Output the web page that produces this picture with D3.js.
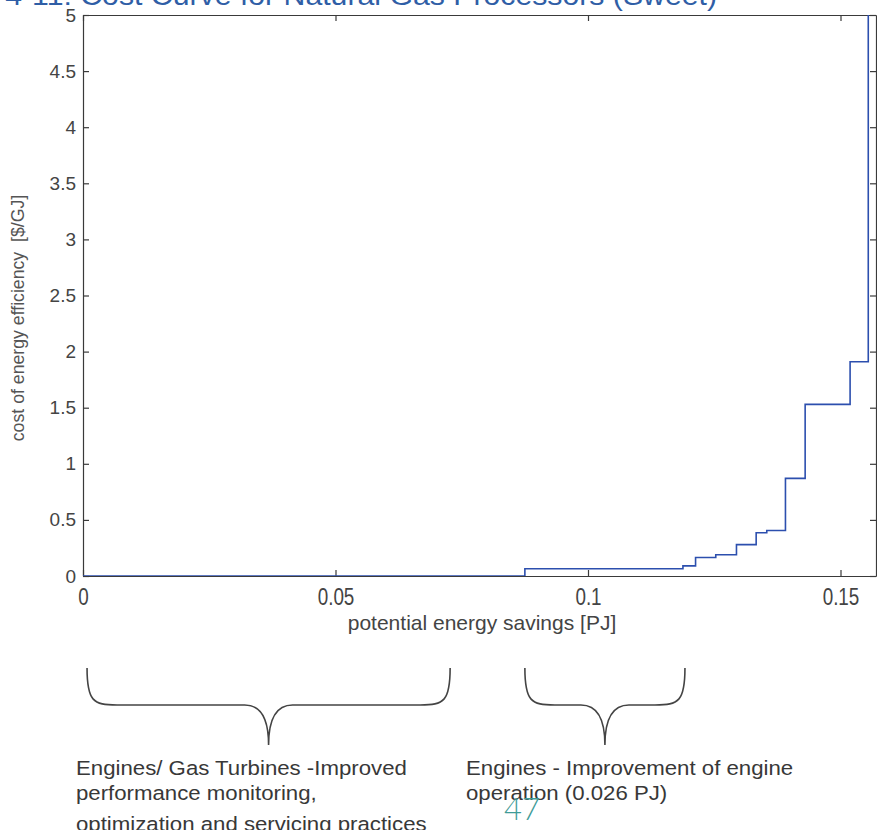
<!DOCTYPE html>
<html>
<head>
<meta charset="utf-8">
<script src="https://cdn.jsdelivr.net/npm/d3@7"></script>
<style>
  html, body { margin: 0; padding: 0; background: #ffffff; overflow: hidden; }
  svg { display: block; }
</style>
</head>
<body>
<svg id="chart" width="877" height="830"></svg>
<script>
// Cost curve steps: each measure starts at a cumulative saving (PJ) and has a cost ($/GJ)
const stepStart = [0, 0.0875, 0.1188, 0.1213, 0.1253, 0.1294, 0.1333, 0.1354, 0.1391, 0.1430, 0.1519, 0.1555];
const stepCost  = [0, 0.065, 0.09, 0.165, 0.19, 0.28, 0.385, 0.405, 0.87, 1.53, 1.91, 6.0];
const stepEnd = 0.16;

const xTicks = [0, 0.05, 0.1, 0.15];
const xTickLabels = ["0", "0.05", "0.1", "0.15"];
const yTicks = [0, 0.5, 1, 1.5, 2, 2.5, 3, 3.5, 4, 4.5, 5];
const yTickLabels = ["0", "0.5", "1", "1.5", "2", "2.5", "3", "3.5", "4", "4.5", "5"];

// Groups of measures bracketed under the axis: [from, to] in PJ
const groupSpans = [[0.0008, 0.0727], [0.0875, 0.1192]];
const groupLabels = [
  ["Engines/ Gas Turbines -Improved", "performance monitoring,", "optimization and servicing practices"],
  ["Engines - Improvement of engine", "operation (0.026 PJ)"]
];

const titleText = "Figure 4-11: Cost Curve for Natural Gas Processors (Sweet)";
const pageNumber = "47";

const svg = d3.select("#chart");
const plotLeft = 83, plotRight = 876, plotTop = 15, plotBottom = 576;
const sans = "Liberation Sans, Arial, sans-serif";

const x = d3.scaleLinear().domain([0, 0.15703]).range([plotLeft, plotRight]);
const y = d3.scaleLinear().domain([0, 5]).range([plotBottom, plotTop]);

// Title (runs off the top edge of the page)
svg.append("text")
  .attr("transform", "translate(717,5) scale(1.12,1)")
  .attr("text-anchor", "end")
  .attr("font-family", sans)
  .attr("font-size", 27)
  .attr("fill", "#2f5ea6")
  .text(titleText);

// Clip for the curve
svg.append("defs").append("clipPath").attr("id", "plotClip")
  .append("rect").attr("x", plotLeft).attr("y", plotTop)
  .attr("width", plotRight - plotLeft).attr("height", plotBottom - plotTop);

const frameColor = "#3a3a3a";
const tickColor = "#444";

// Bottom axis with labels
const xAxis = svg.append("g")
  .attr("transform", `translate(0,${plotBottom})`)
  .call(d3.axisBottom(x).tickValues(xTicks).tickFormat((d, i) => xTickLabels[i])
    .tickSizeInner(-6).tickSizeOuter(0).tickPadding(13));
xAxis.selectAll("text")
  .attr("font-family", sans)
  .attr("font-size", 23)
  .attr("fill", tickColor)
  .attr("transform", "scale(0.82,1)");

// Left axis with labels
const yAxis = svg.append("g")
  .attr("transform", `translate(${plotLeft},0)`)
  .call(d3.axisLeft(y).tickValues(yTicks).tickFormat((d, i) => yTickLabels[i])
    .tickSizeInner(-6).tickSizeOuter(0).tickPadding(7));
yAxis.selectAll("text")
  .attr("font-family", sans)
  .attr("font-size", 19)
  .attr("fill", tickColor);

// Top and right axes: ticks only
svg.append("g")
  .attr("transform", `translate(0,${plotTop})`)
  .call(d3.axisTop(x).tickValues(xTicks).tickFormat("").tickSizeInner(-6).tickSizeOuter(0));
svg.append("g")
  .attr("transform", `translate(${plotRight},0)`)
  .call(d3.axisRight(y).tickValues(yTicks).tickFormat("").tickSizeInner(-6).tickSizeOuter(0));

svg.selectAll(".domain").attr("stroke", frameColor).attr("stroke-width", 1.2);
svg.selectAll(".tick line").attr("stroke", frameColor).attr("stroke-width", 1.2);

// Step curve
const pts = stepStart.map((s, i) => [s, stepCost[i]]);
pts.push([stepEnd, stepCost[stepCost.length - 1]]);
svg.append("path")
  .attr("clip-path", "url(#plotClip)")
  .attr("d", d3.line().x(d => x(d[0])).y(d => y(d[1])).curve(d3.curveStepAfter)(pts))
  .attr("fill", "none")
  .attr("stroke", "#2c4fae")
  .attr("stroke-width", 1.6);

// Axis titles
svg.append("text")
  .attr("x", 482).attr("y", 630)
  .attr("text-anchor", "middle")
  .attr("font-family", sans)
  .attr("font-size", 21)
  .attr("fill", "#444")
  .text("potential energy savings [PJ]");

svg.append("text")
  .attr("transform", "translate(24,318) rotate(-90)")
  .attr("text-anchor", "middle")
  .attr("font-family", sans)
  .attr("font-size", 17.7)
  .attr("fill", "#555")
  .attr("xml:space", "preserve")
  .text("cost of energy efficiency  [$/GJ]");

// Curly braces grouping measures
const braceTop = 668, braceMid = 705, braceTip = 745;
function bracePath(x0, x1) {
  const xm = (x0 + x1) / 2;
  const r = 30, t = 24;
  return `M${x0},${braceTop} C${x0},${braceMid - 4} ${x0 + 6},${braceMid} ${x0 + r},${braceMid}` +
         ` L${xm - t},${braceMid} Q${xm},${braceMid} ${xm},${braceTip}` +
         ` Q${xm},${braceMid} ${xm + t},${braceMid} L${x1 - r},${braceMid}` +
         ` C${x1 - 6},${braceMid} ${x1},${braceMid - 4} ${x1},${braceTop}`;
}
svg.selectAll("path.brace")
  .data(groupSpans)
  .enter().append("path")
  .attr("class", "brace")
  .attr("d", d => bracePath(x(d[0]), x(d[1])))
  .attr("fill", "none")
  .attr("stroke", "#444")
  .attr("stroke-width", 1.6);

// Group descriptions
const labelX = [76, 466];
const lineY = [775, 800, 831];
groupLabels.forEach((lines, gi) => {
  const t = svg.append("text")
    .attr("transform", `translate(${labelX[gi]},0) scale(1.14,1)`)
    .attr("font-family", sans)
    .attr("font-size", 19.5)
    .attr("fill", "#383838");
  lines.forEach((line, li) => {
    t.append("tspan").attr("x", 0).attr("y", lineY[li]).text(line);
  });
});

// Page number
svg.append("text")
  .attr("x", 522).attr("y", 820)
  .attr("text-anchor", "middle")
  .attr("font-family", "Lato, sans-serif")
  .attr("font-weight", 300)
  .attr("font-size", 31)
  .attr("fill", "#3f9c98")
  .text(pageNumber);
</script>
</body>
</html>
